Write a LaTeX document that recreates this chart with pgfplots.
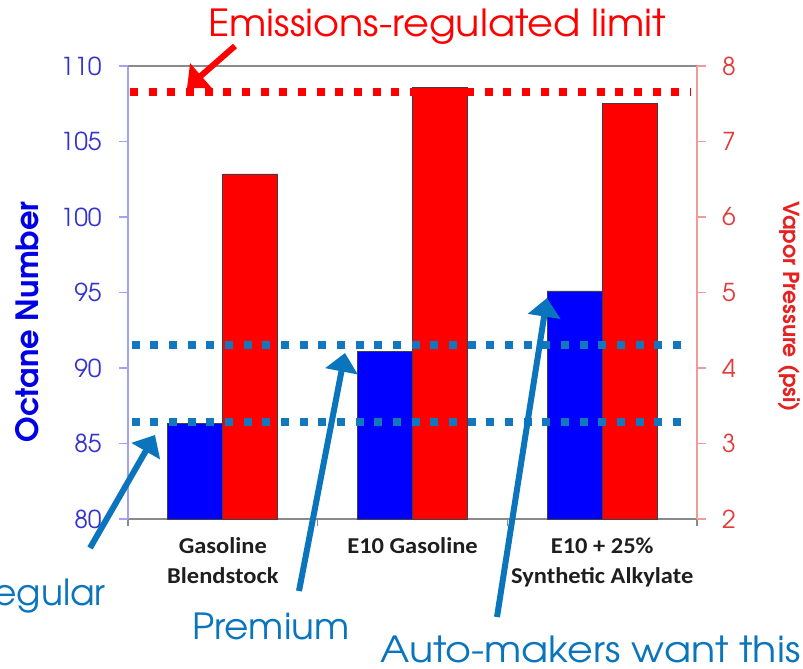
\documentclass[border=0pt]{standalone}
\usepackage{pgfplots}
\pgfplotsset{compat=1.18}
\usepackage{fontspec}
\usepackage{graphicx}
\usetikzlibrary{arrows.meta}
\setmainfont{TeX Gyre Adventor}
\newfontfamily\catfont[FakeStretch=1.08]{Carlito}

\definecolor{barblue}{HTML}{0000FF}
\definecolor{barred}{HTML}{FF0000}
\definecolor{annblue}{HTML}{0A74BC}
\definecolor{dotblue}{HTML}{1277BC}
\definecolor{octblue}{HTML}{3434CC}
\definecolor{octtitle}{HTML}{0000E6}
\definecolor{psired}{HTML}{E23B3B}
\definecolor{psititle}{HTML}{E52222}
\definecolor{leftaxis}{HTML}{A2A2F0}
\definecolor{rightaxis}{HTML}{F29A9A}
\definecolor{axgray}{HTML}{8A8A8A}
\definecolor{labgray}{HTML}{1E1E1E}

% 1 unit of the layout grid = 0.75pt
\pgfplotsset{
  frame/.style={
    at={(96pt,111.75pt)}, anchor=south west, scale only axis,
    width=426.75pt, height=339.75pt,
    xmin=-0.5, xmax=2.5,
    tick align=outside, major tick length=6.75pt,
    /pgf/number format/assume math mode=true,
  },
}
\tikzset{
  dotted level/.style={line width=6pt, dash pattern=on 6pt off 8pt},
  pointer/.style={line width=4.5pt, -{Triangle[length=14pt, width=24pt]}},
}

\begin{document}
\begin{tikzpicture}
\useasboundingbox (0pt,0pt) rectangle (602.25pt,501pt);
\clip (0pt,0pt) rectangle (602.25pt,501pt);

% Octane number (left scale)
\begin{axis}[frame,
  ymin=80, ymax=110, ytick={80,85,...,110},
  axis x line*=bottom, axis y line*=left,
  x axis line style={draw=axgray, line width=0.9pt, -},
  y axis line style={draw=leftaxis, line width=0.9pt, -},
  xtick={0,1,2},
  xticklabels={{Gasoline\\Blendstock},{E10 Gasoline},{E10 + 25\%\\Synthetic Alkylate}},
  xticklabel style={align=center, text=labgray, yshift=-4pt,
    font=\catfont\bfseries\fontsize{17}{22.5}\selectfont},
  major x tick style={draw=none},
  minor xtick={-0.5,0.5,1.5,2.5},
  minor x tick style={draw=axgray, line width=0.9pt},
  minor tick length=5pt,
  y tick style={draw=leftaxis, line width=0.9pt},
  yticklabel style={text=octblue, xshift=-9.5pt, font=\fontsize{18.5}{20}\selectfont},
]
\addplot[ybar, bar width=41.25pt, bar shift=-20.625pt,
  fill=barblue, draw=black!75, line width=0.7pt]
  coordinates {(0,86.3) (1,91.1) (2,95.1)};
\end{axis}

% Vapor pressure (right scale)
\begin{axis}[frame,
  ymin=2, ymax=8, ytick={2,3,...,8},
  axis x line*=top, axis y line*=right,
  x axis line style={draw=axgray, line width=0.9pt, -},
  y axis line style={draw=rightaxis, line width=0.9pt, -},
  xtick=\empty,
  y tick style={draw=rightaxis, line width=0.9pt},
  yticklabel style={text=psired, xshift=8.5pt, font=\fontsize{18.5}{20}\selectfont},
]
\addplot[ybar, bar width=41.25pt, bar shift=20.625pt,
  fill=barred, draw=black!75, line width=0.7pt]
  coordinates {(0,6.57) (1,7.72) (2,7.5)};
% emissions-regulated vapor pressure limit
\addplot[barred, dotted level] coordinates {(-0.49,7.66) (2.47,7.66)};
\end{axis}

% octane levels of regular and premium gasoline
\begin{axis}[frame, ymin=80, ymax=110, hide axis]
\addplot[dotblue, dotted level] coordinates {(-0.48,91.5) (2.47,91.5)};
\addplot[dotblue, dotted level] coordinates {(-0.48,86.4) (2.47,86.4)};
\end{axis}

% axis titles
\node[rotate=90, text=octtitle, font=\bfseries\fontsize{23}{26}\selectfont]
  at (20.25pt,259.5pt) {Octane Number};
\node[rotate=-90, text=psititle, font=\bfseries\fontsize{16.5}{20}\selectfont]
  at (591.75pt,271pt) {Vapor Pressure (psi)};

% annotations
\node[anchor=base west, inner sep=0, text=barred, font=\fontsize{28}{32}\selectfont]
  at (156pt,473.25pt) {\scalebox{1.065}[1]{Emissions-regulated limit}};
\draw[barred, pointer] (176.25pt,466.5pt) -- (140.25pt,435pt);

\node[anchor=base east, inner sep=0, text=annblue, font=\fontsize{27}{32}\selectfont]
  at (79.5pt,47.25pt) {Regular};
\node[anchor=base west, inner sep=0, text=annblue, font=\fontsize{27}{32}\selectfont]
  at (144pt,21.75pt) {\scalebox{1.04}[1]{Premium}};
\node[anchor=base west, inner sep=0, text=annblue, font=\fontsize{27}{32}\selectfont]
  at (285pt,4.5pt) {\scalebox{1.1}[1]{Auto-makers want this}};

\draw[annblue, pointer] (67.5pt,90pt) -- (116.25pt,174.75pt);
\draw[annblue, pointer] (224.25pt,57.75pt) -- (258.75pt,236.25pt);
\draw[annblue, pointer] (372.75pt,38.25pt) -- (410.25pt,277.5pt);
\end{tikzpicture}
\end{document}
